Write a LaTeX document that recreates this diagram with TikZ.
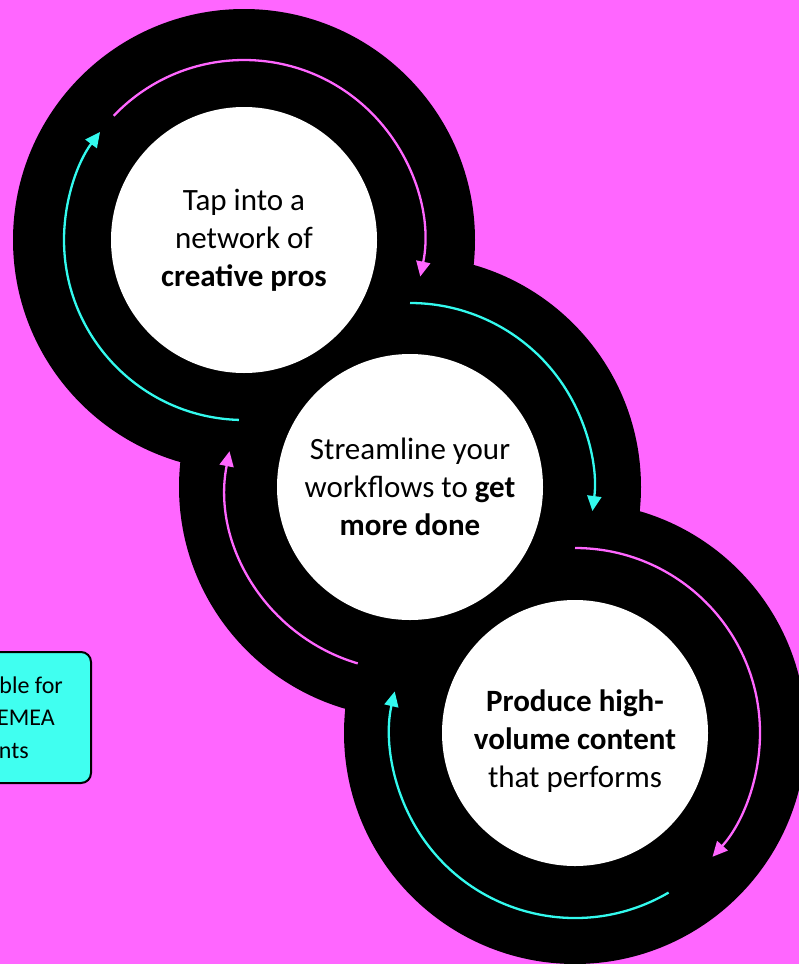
\documentclass[tikz,border=0pt]{standalone}
\usepackage{fontspec}
\setmainfont{Carlito}
\usetikzlibrary{arrows.meta}
\definecolor{bgmag}{RGB}{255,102,255}
\definecolor{arcmag}{RGB}{255,102,255}
\definecolor{arccyan}{RGB}{51,250,238}
\definecolor{boxcyan}{RGB}{64,255,240}
\tikzset{
  blackdisc/.style={circle, fill=black, minimum size=462pt, inner sep=0pt},
  whitedisc/.style={circle, fill=white, minimum size=266pt, inner sep=0pt},
  maintext/.style={align=center, font=\fontsize{31}{38}\selectfont, inner sep=0pt},
  notetext/.style={anchor=base east, font=\fontsize{24}{32}\selectfont, inner sep=0pt},
  cyanarc/.style={draw=arccyan, line width=2.3pt, -{Triangle[length=15pt,width=14pt]}},
  magarc/.style={draw=arcmag, line width=2.3pt, -{Triangle[length=15pt,width=14pt]}},
  notebox/.style={draw=black, fill=boxcyan, line width=2pt, rounded corners=10pt, minimum width=160pt, minimum height=131pt, inner sep=0pt}
}
\begin{document}
\begin{tikzpicture}[x=1pt,y=1pt]
\useasboundingbox (0,0) rectangle (799,-964);
\clip (0,0) rectangle (799,-964);
\fill[bgmag] (0,0) rectangle (799,-964);
% black rings
\node[blackdisc] (b1) at (244,-240) {};
\node[blackdisc] (b2) at (410,-487) {};
\node[blackdisc] (b3) at (575,-733) {};
% white centres
\node[whitedisc] (w1) at (b1.center) {};
\node[whitedisc] (w2) at (b2.center) {};
\node[whitedisc] (w3) at (b3.center) {};
% texts
\node[maintext] (t1) at (244,-240) {Tap into a\\network of\\\textbf{creative pros}};
\node[maintext] (t2) at (410,-487) {Streamline your\\workflows to \textbf{get}\\\textbf{more done}};
\node[maintext] (t3) at (575,-741) {\textbf{Produce high-}\\\textbf{volume content}\\that performs};
% arcs, circle 1
\draw[magarc] ([shift={(136.4:180pt)}]b1.center) arc[start angle=136.4, end angle=-11.7, radius=180pt];
\draw[cyanarc] ([shift={(268.4:180pt)}]b1.center) arc[start angle=268.4, end angle=143.1, radius=180pt];
% arcs, circle 2
\draw[cyanarc] ([shift={(90:184pt)}]b2.center) arc[start angle=90, end angle=-7.5, radius=184pt];
\draw[magarc] ([shift={(253.5:184pt)}]b2.center) arc[start angle=253.5, end angle=168.8, radius=184pt];
% arcs, circle 3
\draw[magarc] ([shift={(90:185pt)}]b3.center) arc[start angle=90, end angle=-42, radius=185pt];
\draw[cyanarc] ([shift={(300.4:185pt)}]b3.center) arc[start angle=300.4, end angle=167, radius=185pt];
% note box
\node[notebox, anchor=north east] (note) at (92,-651) {};
\node[notetext] (n1) at (63,-693) {ble for};
\node[notetext] (n2) at (55,-725) {EMEA};
\node[notetext] (n3) at (29,-758) {nts};
\end{tikzpicture}
\end{document}
